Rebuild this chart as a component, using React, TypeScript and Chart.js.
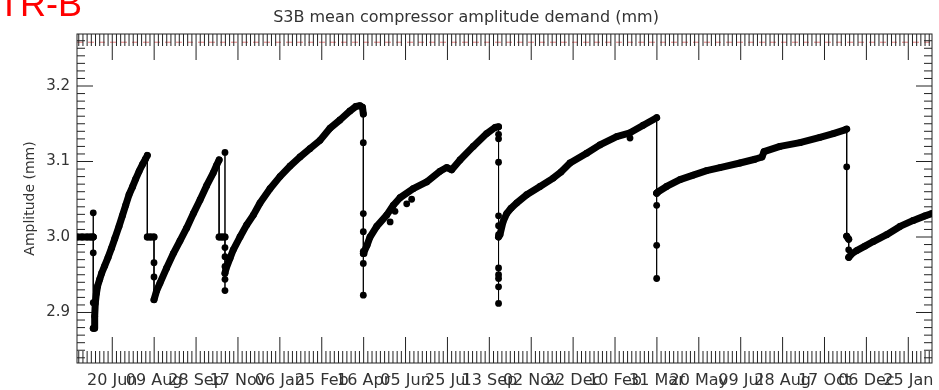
import React, { useEffect, useRef } from 'react';
import { Chart, registerables } from 'chart.js';

Chart.register(...registerables);

// x values: days since 20 Jun 2018
const DAY_OFFSETS = [
  // flat start + drop
  -42.0, -36, -30, -26, -22.7,
  -22.7, -22.7, -22.7, -22.7, -22.7,
  // cycle 1
  -21.5, -21.0, -20.3, -19.0, -17.5, -15, -12.7, -9, -5, -1, 3, 8, 12, 16, 20, 24, 28, 32, 36, 39.5, 41.8,
  // transition 1-2
  41.8, 45.5, 49.8, 49.8, 49.8, 49.8,
  // cycle 2
  53.0, 56.9, 64.9, 72.8, 80.8, 88.8, 96.7, 104.7, 112.6, 120.5, 124.5, 127.5,
  // transition 2-3
  127.5, 131, 134.5, 134.5, 134.5, 134.5, 134.5, 134.5, 134.5, 134.5,
  // cycle 3
  135.7, 140.5, 144.4, 152.4, 160.4, 168.3, 176.3, 188.2, 200.1, 212.1, 224.0, 235.9, 247.9, 259.8, 271.7, 283.7, 290.8, 295.6, 298.6,
  // transition 3-4
  299.6, 299.6, 299.6, 299.6, 299.6, 299.6, 299.6, 299.6,
  // cycle 4
  300.4, 304.0, 307.6, 315.6, 327.5, 335.4, 343.4, 359.2, 375.2, 391.1, 399.1, 405.1, 415.0, 430.8, 446.8, 456.7, 461,
  // transition 4-5
  461, 461, 461, 461, 461, 461, 461, 461, 461, 461, 461, 461,
  // cycle 5
  462.7, 466.3, 470.7, 475.8, 482.6, 494.6, 510.5, 526.3, 535.5, 546.3, 566.2, 582.0, 602.0, 617.9, 633.7, 649.7,
  // transition 5-6
  649.7, 649.7, 649.7, 649.7, 649.7,
  // cycle 6
  651.6, 661.6, 677.5, 693.4, 709.4, 725.3, 749.1, 767.0, 775.4, 777.8, 796.9, 820.7, 844.6, 860.5, 874.5, 876.5,
  // transition 6-7
  876.5, 876.5, 878.9, 878.9, 878.9,
  // cycle 7
  882.8, 888.4, 898.3, 908.2, 924.2, 940.1, 956.0, 970.0, 978.0,
];

const AMPLITUDE_MM = [
  3.0, 3.0, 3.0, 3.0, 3.0,
  3.032, 3.0, 2.979, 2.913, 2.879,
  2.879, 2.895, 2.912, 2.925, 2.935, 2.944, 2.952, 2.962, 2.973, 2.985, 2.998, 3.014, 3.028, 3.042, 3.056, 3.066, 3.077, 3.087, 3.096, 3.103, 3.108,
  3.0, 3.0, 3.0, 2.966, 2.947, 2.917,
  2.929, 2.939, 2.959, 2.978, 2.995, 3.012, 3.031, 3.049, 3.068, 3.085, 3.095, 3.102,
  3.0, 3.0, 3.0, 3.112, 2.986, 2.974, 2.961, 2.944, 2.929, 2.952,
  2.958, 2.972, 2.983, 3.000, 3.016, 3.029, 3.045, 3.064, 3.080, 3.094, 3.106, 3.117, 3.128, 3.144, 3.155, 3.167, 3.173, 3.174, 3.172,
  3.163, 3.125, 3.031, 3.007, 2.981, 2.965, 2.923, 2.978,
  2.980, 2.989, 3.000, 3.014, 3.029, 3.042, 3.052, 3.064, 3.073, 3.087, 3.092, 3.089, 3.102, 3.120, 3.137, 3.145, 3.146,
  3.136, 3.130, 3.099, 3.028, 3.015, 3.003, 2.959, 2.950, 2.945, 2.934, 2.912, 3.0,
  3.003, 3.020, 3.031, 3.038, 3.045, 3.056, 3.067, 3.078, 3.086, 3.098, 3.111, 3.122, 3.133, 3.138, 3.148, 3.158,
  3.058, 3.042, 2.989, 2.945, 3.058,
  3.060, 3.067, 3.076, 3.082, 3.088, 3.092, 3.098, 3.103, 3.106, 3.113, 3.120, 3.125, 3.132, 3.137, 3.142, 3.143,
  3.093, 3.001, 2.997, 2.983, 2.973,
  2.978, 2.982, 2.988, 2.994, 3.003, 3.014, 3.022, 3.028, 3.031,
];

const STRAY_DAYS = [331.6, 337.4, 351.4, 357.3, 617.9];
const STRAY_AMPLITUDE_MM = [3.020, 3.034, 3.044, 3.050, 3.131];

const X_TICK_DAYS = [0, 50, 100, 150, 200, 250, 300, 350, 400, 450, 500, 550, 600, 650, 700, 750, 800, 850, 900, 950];
const X_TICK_LABELS = [
  '20 Jun', '09 Aug', '28 Sep', '17 Nov', '06 Jan', '25 Feb', '16 Apr', '05 Jun', '25 Jul', '13 Sep',
  '02 Nov', '22 Dec', '10 Feb', '31 Mar', '20 May', '09 Jul', '28 Aug', '17 Oct', '06 Dec', '25 Jan',
];
const Y_TICK_VALUES = [2.9, 3.0, 3.1, 3.2];
const Y_TICK_LABELS = ['2.9', '3.0', '3.1', '3.2'];
const LIMIT_MM = 3.258;

const TEXT_COLOR = '#333';

const idlAxes = {
  id: 'idlAxes',
  beforeDatasetsDraw(chart: any) {
    const { ctx, chartArea: a, scales } = chart;
    const x = scales.x;
    const y = scales.y;
    ctx.save();
    const ly = y.getPixelForValue(LIMIT_MM);
    ctx.strokeStyle = 'rgba(225,90,90,0.8)';
    ctx.lineWidth = 1;
    ctx.setLineDash([6, 5]);
    ctx.beginPath();
    ctx.moveTo(a.left, ly);
    ctx.lineTo(a.right, ly);
    ctx.stroke();
    ctx.setLineDash([]);
    ctx.strokeStyle = '#222';
    ctx.strokeRect(a.left, a.top, a.right - a.left, a.bottom - a.top);
    ctx.beginPath();
    const d0 = Math.ceil(x.min / 5);
    const d1 = Math.floor(x.max / 5);
    for (let k = d0; k <= d1; k++) {
      const px = x.getPixelForValue(k * 5);
      const len = k % 10 === 0 ? 26 : 12;
      ctx.moveTo(px, a.bottom);
      ctx.lineTo(px, a.bottom - len);
      ctx.moveTo(px, a.top);
      ctx.lineTo(px, a.top + len);
    }
    const v0 = Math.ceil(y.min * 100);
    const v1 = Math.floor(y.max * 100);
    for (let k = v0; k <= v1; k++) {
      const py = y.getPixelForValue(k / 100);
      const len = k % 10 === 0 ? 16 : 8;
      ctx.moveTo(a.left, py);
      ctx.lineTo(a.left + len, py);
      ctx.moveTo(a.right, py);
      ctx.lineTo(a.right - len, py);
    }
    ctx.stroke();
    ctx.restore();
  },
};

export default function App() {
  const ref = useRef<HTMLCanvasElement>(null);
  useEffect(() => {
    const mainData = DAY_OFFSETS.map((d, i) => ({ x: d, y: AMPLITUDE_MM[i] }));
    const strayData = STRAY_DAYS.map((d, i) => ({ x: d, y: STRAY_AMPLITUDE_MM[i] }));
    const chart = new Chart(ref.current as HTMLCanvasElement, {
      type: 'line',
      data: {
        datasets: [
          {
            data: mainData,
            borderColor: '#000',
            backgroundColor: '#000',
            borderWidth: 1,
            pointRadius: 3.4,
            pointBorderWidth: 0,
            pointBackgroundColor: '#000',
            borderCapStyle: 'round',
            borderJoinStyle: 'round',
            tension: 0,
            segment: {
              borderWidth: (c: any) => (c.p0.parsed.x === c.p1.parsed.x ? 1 : 7),
            },
          } as any,
          {
            data: strayData,
            showLine: false,
            pointRadius: 3.4,
            pointBorderWidth: 0,
            pointBackgroundColor: '#000',
            borderColor: '#000',
          } as any,
        ],
      },
      options: {
        responsive: false,
        animation: false,
        devicePixelRatio: 1,
        layout: { padding: { left: 0, right: 7, top: 0, bottom: 0 } },
        plugins: {
          legend: { display: false },
          tooltip: { enabled: false },
          title: {
            display: true,
            text: 'S3B mean compressor amplitude demand (mm)',
            color: TEXT_COLOR,
            font: { family: "'DejaVu Sans', sans-serif", size: 16, weight: 'normal' },
            padding: { top: 8, bottom: 6.8 },
          },
        },
        scales: {
          x: {
            type: 'linear',
            min: -42.1,
            max: 978.3,
            grid: { display: false, drawTicks: false },
            border: { display: false },
            afterBuildTicks: (s: any) => {
              s.ticks = X_TICK_DAYS.map((v) => ({ value: v }));
            },
            afterFit: (s: any) => {
              s.height = 27;
              s.paddingLeft = 0;
              s.paddingRight = 0;
            },
            ticks: {
              autoSkip: false,
              maxRotation: 0,
              minRotation: 0,
              padding: 8,
              color: TEXT_COLOR,
              font: { family: "'DejaVu Sans', sans-serif", size: 16 },
              callback: (_v: any, i: number) => X_TICK_LABELS[i],
            },
          },
          y: {
            type: 'linear',
            min: 2.8331,
            max: 3.2689,
            grid: { display: false, drawTicks: false },
            border: { display: false },
            afterBuildTicks: (s: any) => {
              s.ticks = Y_TICK_VALUES.map((v) => ({ value: v }));
            },
            afterFit: (s: any) => {
              s.width = 77;
              s.paddingTop = 0;
              s.paddingBottom = 0;
            },
            ticks: {
              padding: 7,
              color: TEXT_COLOR,
              font: { family: "'DejaVu Sans', sans-serif", size: 15 },
              callback: (_v: any, i: number) => Y_TICK_LABELS[i],
            },
            title: {
              display: true,
              text: 'Amplitude (mm)',
              color: TEXT_COLOR,
              font: { family: "'DejaVu Sans', sans-serif", size: 14 },
              padding: { top: 21.6, bottom: 0 },
            },
          },
        },
      },
      plugins: [idlAxes],
    });
    return () => chart.destroy();
  }, []);

  return (
    <div
      style={{
        position: 'absolute',
        left: 0,
        top: 0,
        width: 939,
        height: 390,
        overflow: 'hidden',
        background: '#fff',
      }}
    >
      <canvas
        ref={ref}
        width={939}
        height={390}
        style={{ position: 'absolute', left: 0, top: 0, width: 939, height: 390 }}
      />
      <div
        style={{
          position: 'absolute',
          left: -2,
          top: -14,
          color: '#ff0000',
          font: "36px 'Liberation Sans', Arial, sans-serif",
          lineHeight: '36px',
          whiteSpace: 'nowrap',
        }}
      >
        TR-B
      </div>
    </div>
  );
}
